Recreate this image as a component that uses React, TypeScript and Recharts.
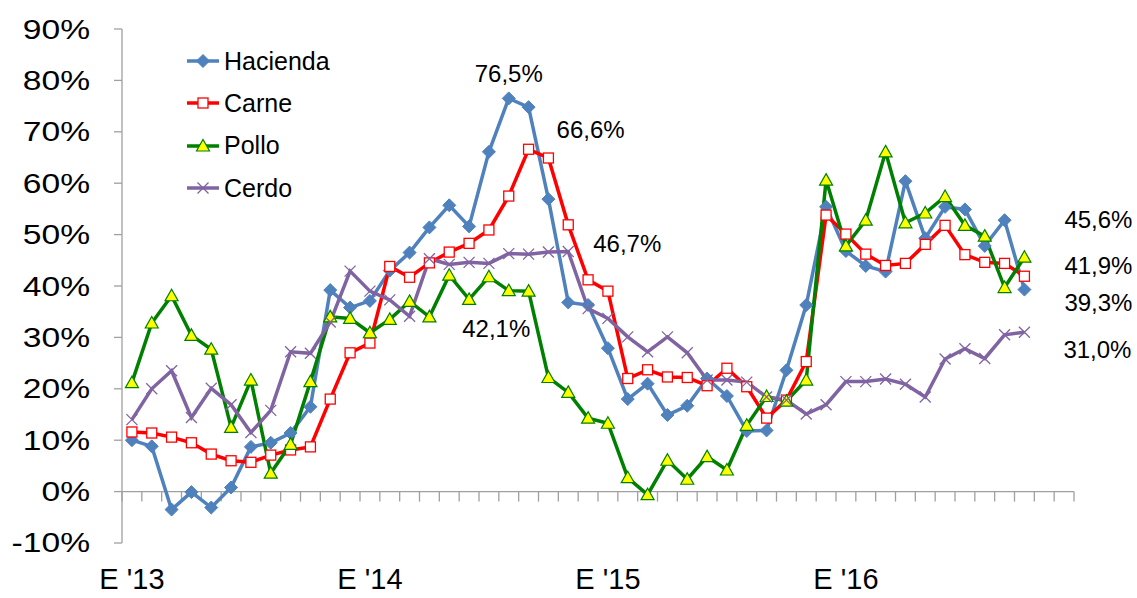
import React from 'react'
import { LineChart, Line, XAxis, YAxis, ReferenceLine, ReferenceDot, Legend } from 'recharts'

// meses (E = enero) desde enero 2013 hasta diciembre 2016
const MONTHS = ['E', 'F', 'M', 'A', 'M', 'J', 'J', 'A', 'S', 'O', 'N', 'D']
const YEARS = ['13', '14', '15', '16']
const categories = YEARS.flatMap((yy) => MONTHS.map((m) => `${m} '${yy}`))
const xTicks = [0, 12, 24, 36]
const yTicks = [-10, 0, 10, 20, 30, 40, 50, 60, 70, 80, 90]

const hacienda = [
  10.0, 8.8, -3.5, -0.1, -3.1, 0.8, 8.7, 9.5, 11.4, 16.5,
  39.2, 35.8, 37.1, 43.0, 46.5, 51.4, 55.7, 51.6, 66.1, 76.5,
  74.8, 56.9, 36.8, 36.3, 27.9, 18.0, 21.0, 14.9, 16.7, 22.0,
  18.6, 11.8, 11.9, 23.6, 36.3, 55.4, 46.8, 43.9, 42.8, 60.4,
  49.3, 55.4, 54.9, 47.8, 52.8, 39.3,
]
const carne = [
  11.6, 11.4, 10.6, 9.5, 7.3, 6.0, 5.7, 7.1, 8.1, 8.7,
  18.0, 27.0, 28.9, 43.8, 41.7, 44.5, 46.6, 48.3, 50.9, 57.5,
  66.6, 64.9, 51.9, 41.2, 39.0, 22.0, 23.7, 22.3, 22.2, 20.6,
  24.0, 20.4, 14.3, 17.8, 25.3, 53.8, 50.1, 46.2, 44.0, 44.4,
  48.1, 51.8, 46.1, 44.6, 44.4, 41.9,
]
const pollo = [
  21.2, 32.8, 38.1, 30.4, 27.7, 12.5, 21.7, 3.6, 9.2, 21.4,
  34.0, 33.7, 30.9, 33.5, 37.0, 34.0, 42.1, 37.4, 41.8, 39.1,
  39.0, 22.2, 19.3, 14.3, 13.3, 2.7, -0.6, 6.1, 2.4, 6.8,
  4.2, 12.9, 18.5, 17.6, 21.7, 60.6, 47.8, 52.8, 66.1, 52.3,
  54.2, 57.4, 51.8, 49.7, 39.7, 45.6,
]
const cerdo = [
  14.0, 20.0, 23.5, 14.4, 20.1, 16.9, 11.5, 15.8, 27.2, 26.9,
  33.0, 42.9, 39.0, 37.3, 34.1, 45.3, 44.2, 44.6, 44.4, 46.3,
  46.2, 46.6, 46.7, 35.6, 33.7, 30.1, 27.2, 30.1, 27.0, 21.7,
  21.7, 21.3, 18.4, 17.8, 15.1, 16.9, 21.4, 21.4, 21.9, 20.9,
  18.4, 25.8, 27.8, 25.9, 30.5, 31.0,
]

const data = hacienda.map((_, i) => ({
  idx: i,
  month: categories[i],
  hacienda: hacienda[i],
  carne: carne[i],
  pollo: pollo[i],
  cerdo: cerdo[i],
}))

const FONT = '"Liberation Sans", Arial, sans-serif'
const AXIS_GRAY = '#A0A0A0'

type Marker = 'diamond' | 'square' | 'triangle' | 'cross'

const SERIES: { key: string; name: string; color: string; marker: Marker; values: number[] }[] = [
  { key: 'hacienda', name: 'Hacienda', color: '#4F81BD', marker: 'diamond', values: hacienda },
  { key: 'carne', name: 'Carne', color: '#FF0000', marker: 'square', values: carne },
  { key: 'pollo', name: 'Pollo', color: '#008000', marker: 'triangle', values: pollo },
  { key: 'cerdo', name: 'Cerdo', color: '#8064A2', marker: 'cross', values: cerdo },
]

// etiquetas de valor: serie, punto y desplazamiento del texto en px
const CALLOUTS = [
  { series: 0, index: 19, dx: 0, dy: -25 },
  { series: 1, index: 20, dx: 62, dy: -20 },
  { series: 3, index: 22, dx: 59, dy: -8 },
  { series: 2, index: 16, dx: 47, dy: 53 },
  { series: 2, index: 45, dx: 74, dy: -38 },
  { series: 1, index: 45, dx: 74, dy: -11 },
  { series: 0, index: 45, dx: 74, dy: 13 },
  { series: 3, index: 45, dx: 73, dy: 17 },
]

const fmtPct = (v: number) => `${v.toFixed(1).replace('.', ',')}%`

function MarkerShape({ type, cx, cy, color }: { type: Marker; cx: number; cy: number; color: string }) {
  if (type === 'diamond') {
    const r = 6.5
    return <path d={`M${cx},${cy - r}L${cx + r},${cy}L${cx},${cy + r}L${cx - r},${cy}Z`} fill={color} stroke={color} />
  }
  if (type === 'square') {
    const h = 5
    return <rect x={cx - h} y={cy - h} width={h * 2} height={h * 2} fill="#fff" stroke={color} strokeWidth={1.3} />
  }
  if (type === 'triangle') {
    return (
      <path
        d={`M${cx},${cy - 6.5}L${cx + 6.5},${cy + 5}L${cx - 6.5},${cy + 5}Z`}
        fill="#FFFF00"
        stroke={color}
        strokeWidth={1.2}
      />
    )
  }
  const r = 5.5
  return (
    <path d={`M${cx - r},${cy - r}L${cx + r},${cy + r}M${cx + r},${cy - r}L${cx - r},${cy + r}`} stroke={color} strokeWidth={1.3} fill="none" />
  )
}

function LegendBox() {
  return (
    <div style={{ fontFamily: FONT, fontSize: 25, color: '#000' }}>
      {SERIES.map((s) => (
        <div key={s.key} style={{ display: 'flex', alignItems: 'center', height: 42.3 }}>
          <svg width={36} height={20} style={{ marginRight: 3 }}>
            <line x1={2} y1={10} x2={34} y2={10} stroke={s.color} strokeWidth={3.5} />
            <MarkerShape type={s.marker} cx={18} cy={10} color={s.color} />
          </svg>
          <span>{s.name}</span>
        </div>
      ))}
    </div>
  )
}

// el texto del eje Y del original es algo más ancho que Arial
function YTick({ x, y, payload }: any) {
  return (
    <text
      x={x}
      y={y}
      textAnchor="end"
      dominantBaseline="central"
      fontSize={28}
      fontFamily={FONT}
      fill="#000"
      transform={`translate(${x},${y}) scale(1.2,1) translate(${-x},${-y})`}
    >
      {`${payload.value}%`}
    </text>
  )
}

const boundaries = Array.from({ length: 49 }, (_, k) => k - 0.5)

export default function App() {
  return (
    <div style={{ width: 1137, height: 598, background: '#fff' }}>
      <style>{'body{margin:0}'}</style>
      <LineChart width={1137} height={598} data={data} margin={{ top: 29, right: 63, left: 0, bottom: 0 }}>
        <XAxis
          dataKey="idx"
          type="number"
          domain={[-0.5, 47.5]}
          ticks={xTicks}
          tickFormatter={(v: number) => categories[v]}
          axisLine={false}
          tickLine={false}
          tickSize={0}
          tickMargin={25}
          height={55}
          tick={{ fill: '#000', fontSize: 29, fontFamily: FONT }}
        />
        <YAxis
          domain={[-10, 90]}
          ticks={yTicks}
          width={122}
          interval={0}
          axisLine={{ stroke: AXIS_GRAY, strokeWidth: 1.3 }}
          tickLine={{ stroke: AXIS_GRAY, strokeWidth: 1.3 }}
          tickSize={8}
          tickMargin={24}
          tick={<YTick />}
        />
        <Legend
          layout="vertical"
          align="center"
          verticalAlign="middle"
          wrapperStyle={{ left: 185, top: 40, width: 'auto', height: 'auto' }}
          content={() => <LegendBox />}
        />
        <ReferenceLine y={0} stroke={AXIS_GRAY} strokeWidth={1.3} />
        {boundaries.map((b) => (
          <ReferenceLine
            key={`t${b}`}
            segment={[{ x: b, y: 0 }, { x: b, y: -1.95 }]}
            stroke={AXIS_GRAY}
            strokeWidth={1.3}
            ifOverflow="visible"
          />
        ))}
        {SERIES.map((s) => (
          <Line
            key={s.key}
            type="linear"
            dataKey={s.key}
            name={s.name}
            stroke={s.color}
            strokeWidth={3.5}
            isAnimationActive={false}
            activeDot={false}
            dot={(p: any) => <MarkerShape key={`${s.key}-${p.index}`} type={s.marker} cx={p.cx} cy={p.cy} color={s.color} />}
          />
        ))}
        {CALLOUTS.map((c, i) => {
          const v = SERIES[c.series].values[c.index]
          return (
            <ReferenceDot
              key={`c${i}`}
              x={c.index}
              y={v}
              r={0}
              fill="none"
              stroke="none"
              ifOverflow="visible"
              label={({ viewBox }: any) => (
                <text
                  x={viewBox.x + viewBox.width / 2 + c.dx}
                  y={viewBox.y + viewBox.height / 2 + c.dy}
                  textAnchor="middle"
                  dominantBaseline="central"
                  fontSize={24}
                  fontFamily={FONT}
                  fill="#000"
                >
                  {fmtPct(v)}
                </text>
              )}
            />
          )
        })}
      </LineChart>
    </div>
  )
}
